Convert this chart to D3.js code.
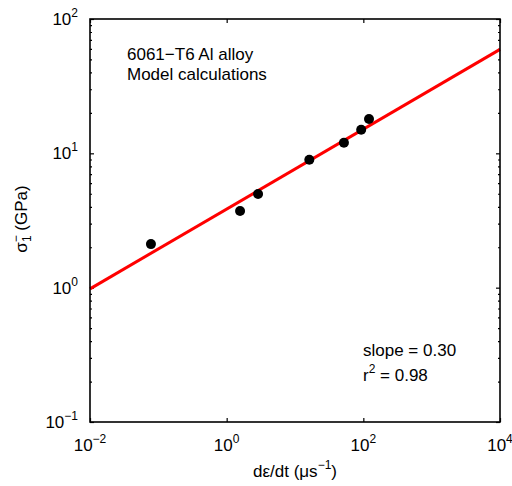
<!DOCTYPE html>
<html><head><meta charset="utf-8">
<script src="https://cdn.jsdelivr.net/npm/d3@7"></script>
<style>body{margin:0;background:#fff}text{font-family:Arial,"Liberation Sans",sans-serif;fill:#000}</style>
</head><body><svg id="c" width="512" height="486"></svg>
<script>
const strainRate = [0.078, 1.57, 2.88, 16.2, 52, 93, 121];
const stress = [2.11, 3.72, 4.98, 8.97, 12.0, 15.0, 18.0];
const fitX = [0.01, 10000];
const fitY = [0.98, 59.4];
const xTickExp = [-2, 0, 2, 4];
const yTickExp = [-1, 0, 1, 2];
const titleLines = ["6061\u2212T6 Al alloy", "Model calculations"];
const slopeText = "slope = 0.30";
const r2Value = "0.98";

const svg = d3.select("#c");
const L = 90, R = 500, T = 19, B = 422;
const x = d3.scaleLog().domain([1e-2, 1e4]).range([L, R]);
const y = d3.scaleLog().domain([1e-1, 1e2]).range([B, T]);

const xMaj = xTickExp.map(e => Math.pow(10, e));
const yMaj = yTickExp.map(e => Math.pow(10, e));
const yMin = [];
[0.1, 1, 10].forEach(d => { for (let k = 2; k < 10; k++) yMin.push(d * k); });

function styleAxis(g){ g.select(".domain").remove(); g.selectAll("line").attr("stroke","#000").attr("stroke-width",1.2); g.selectAll("text").remove(); }

svg.append("g").attr("transform",`translate(0,${B})`).call(d3.axisBottom(x).tickValues(xMaj).tickSize(-4)).call(styleAxis);
svg.append("g").attr("transform",`translate(0,${T})`).call(d3.axisTop(x).tickValues(xMaj).tickSize(-4)).call(styleAxis);
svg.append("g").attr("transform",`translate(${L},0)`).call(d3.axisLeft(y).tickValues(yMaj).tickSize(-4)).call(styleAxis);
svg.append("g").attr("transform",`translate(${L},0)`).call(d3.axisLeft(y).tickValues(yMin).tickSize(-2)).call(styleAxis);
svg.append("g").attr("transform",`translate(${R},0)`).call(d3.axisRight(y).tickValues(yMaj).tickSize(-4)).call(styleAxis);
svg.append("g").attr("transform",`translate(${R},0)`).call(d3.axisRight(y).tickValues(yMin).tickSize(-2)).call(styleAxis);

// fit line
const line = d3.line().x(d => x(d[0])).y(d => y(d[1]));
svg.append("path").datum(fitX.map((v,i)=>[v, fitY[i]])).attr("d", line)
  .attr("fill","none").attr("stroke","#ff0000").attr("stroke-width",3);

// points
svg.selectAll("circle.pt").data(strainRate.map((v,i)=>[v, stress[i]])).enter().append("circle")
  .attr("cx", d=>x(d[0])).attr("cy", d=>y(d[1])).attr("r",5).attr("fill","#000");

// frame
svg.append("rect").attr("x",L).attr("y",T).attr("width",R-L).attr("height",B-T)
  .attr("fill","none").attr("stroke","#000").attr("stroke-width",1.6);

// x tick labels
xTickExp.forEach(e => {
  const t = svg.append("text").attr("x", x(Math.pow(10,e))).attr("y", 451).attr("text-anchor","middle").style("font-size","17px");
  t.append("tspan").text("10");
  t.append("tspan").attr("dy",-8).style("font-size","12px").text(e < 0 ? "\u2212" + (-e) : String(e));
});
// y tick labels
yTickExp.forEach(e => {
  const t = svg.append("text").attr("x", 78).attr("y", y(Math.pow(10,e)) + 6).attr("text-anchor","end").style("font-size","17px");
  t.append("tspan").text("10");
  t.append("tspan").attr("dy",-8).style("font-size","12px").text(e < 0 ? "\u2212" + (-e) : String(e));
});

// axis labels
const xl = svg.append("text").attr("x", 295).attr("y", 477).attr("text-anchor","middle").style("font-size","17px");
xl.append("tspan").text("d\u03b5/dt (\u03bcs");
xl.append("tspan").attr("dy",-8).style("font-size","12px").text("\u22121");
xl.append("tspan").attr("dy",8).text(")");

const yl = svg.append("text").attr("transform","translate(27,219) rotate(-90)").attr("text-anchor","middle").style("font-size","17px");
yl.append("tspan").text("\u03c3");
yl.append("tspan").attr("dy",-7).style("font-size","12px").text("\u2212");
yl.append("tspan").attr("dx",-7).attr("dy",11).style("font-size","12px").text("1");
yl.append("tspan").attr("dy",-4).text(" (GPa)");

// annotations
titleLines.forEach((s,i) => svg.append("text").attr("x",127).attr("y",60 + i*20).style("font-size","17px").text(s));
svg.append("text").attr("x",363).attr("y",356).style("font-size","17px").text(slopeText);
const r2 = svg.append("text").attr("x",363).attr("y",381).style("font-size","17px");
r2.append("tspan").text("r");
r2.append("tspan").attr("dy",-8).style("font-size","12px").text("2");
r2.append("tspan").attr("dy",8).text(" = " + r2Value);
</script></body></html>
